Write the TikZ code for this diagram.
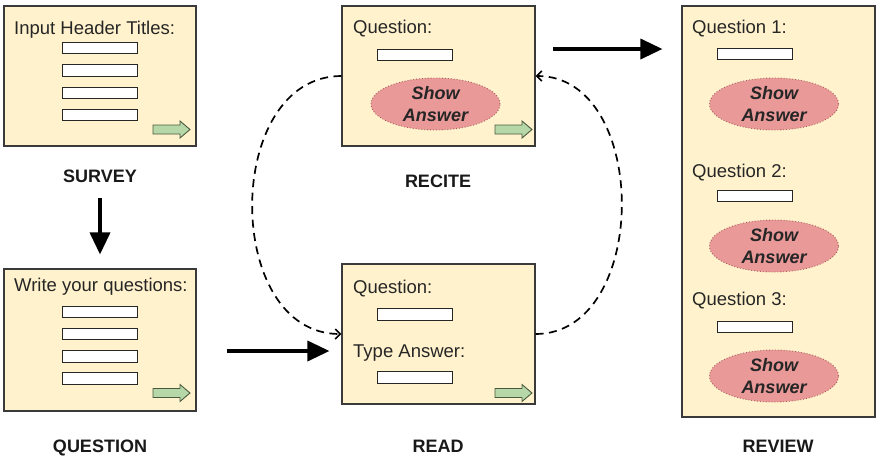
\documentclass[tikz,border=0pt]{standalone}
\usepackage{fontspec}
\setmainfont{Liberation Sans}
\usetikzlibrary{arrows.meta,shapes.geometric,calc}
\definecolor{boxfill}{HTML}{FFF2CC}
\definecolor{boxline}{HTML}{3A3A3A}
\definecolor{ellfill}{HTML}{EA9999}
\definecolor{ellline}{HTML}{A85C5C}
\definecolor{grfill}{HTML}{B6D7A8}
\definecolor{grline}{HTML}{4B5A3F}
\definecolor{txt}{HTML}{262626}
\begin{document}
\begin{tikzpicture}[x=1pt,y=-1pt,
  panel/.style={draw=boxline, fill=boxfill, line width=1.1pt, inner sep=0pt},
  field/.style={draw=black!85, fill=white, line width=1.1pt, minimum width=75pt, minimum height=11.5pt, inner sep=0pt},
  lbl/.style={anchor=base west, inner sep=0pt, text=txt, font=\fontsize{18.5}{22}\selectfont},
  title/.style={anchor=base, inner sep=0pt, text=black!90, font=\fontsize{18}{22}\selectfont\bfseries},
  showans/.style={ellipse, draw=ellline, fill=ellfill, dotted, line width=0.9pt, minimum width=129pt, minimum height=52pt, inner sep=0pt, align=center, text=txt, font=\fontsize{18}{22}\selectfont\bfseries\itshape},
  bigarrow/.style={line width=3.5pt, -{Triangle[length=22pt,width=20pt]}},
  loopline/.style={dash pattern=on 8pt off 5.5pt, line width=1.7pt, -{Straight Barb[length=5pt,width=10pt]}},
  garrow/.pic={\draw[fill=grfill, draw=grline, line width=0.9pt] (0,-4.5) -- (27,-4.5) -- (27,-8.5) -- (37,0) -- (27,8.5) -- (27,4.5) -- (0,4.5) -- cycle;}
]
\useasboundingbox (0,0) rectangle (877,456);
\fill[white] (0,0) rectangle (877,456);

% SURVEY
\node[panel, minimum width=192pt, minimum height=140pt] (survey) at (100,76) {};
\node[lbl] (surveyT) at (14,34) {Input Header Titles:};
\node[field] (sf1) at (100,48) {};
\node[field] (sf2) at (100,70.5) {};
\node[field] (sf3) at (100,93) {};
\node[field] (sf4) at (100,115) {};
\pic at (153,129.5) {garrow};
\node[title] (surveyL) at (100,182) {SURVEY};

% QUESTION
\node[panel, minimum width=192pt, minimum height=142pt] (question) at (100,340) {};
\node[lbl] (questionT) at (14,291) {Write your questions:};
\node[field] (qf1) at (100,312) {};
\node[field] (qf2) at (100,334) {};
\node[field] (qf3) at (100,356.5) {};
\node[field] (qf4) at (100,378.5) {};
\pic at (153,393) {garrow};
\node[title] (questionL) at (100,452) {QUESTION};

% RECITE
\node[panel, minimum width=193pt, minimum height=140pt] (recite) at (438.5,76) {};
\node[lbl] (reciteT) at (353,33) {Question:};
\node[field] (rf1) at (415,55) {};
\node[showans] (rs) at (435.5,104) {Show\\Answer};
\pic at (495,129.5) {garrow};
\node[title] (reciteL) at (438,187) {RECITE};

% READ
\node[panel, minimum width=193pt, minimum height=140pt] (read) at (438.5,334) {};
\node[lbl] (readT1) at (353,293) {Question:};
\node[field] (df1) at (415,314.5) {};
\node[lbl] (readT2) at (353,357) {Type Answer:};
\node[field] (df2) at (415,377.5) {};
\pic at (495,393) {garrow};
\node[title] (readL) at (438,452) {READ};

% REVIEW
\node[panel, minimum width=193pt, minimum height=411pt] (review) at (778.5,211.5) {};
\node[lbl] (vT1) at (692,33) {Question 1:};
\node[field] (vf1) at (755,54) {};
\node[showans] (vs1) at (774,104) {Show\\Answer};
\node[lbl] (vT2) at (692,177) {Question 2:};
\node[field] (vf2) at (755,196) {};
\node[showans] (vs2) at (774,246) {Show\\Answer};
\node[lbl] (vT3) at (692,305) {Question 3:};
\node[field] (vf3) at (755,327) {};
\node[showans] (vs3) at (774,376) {Show\\Answer};
\node[title] (reviewL) at (778,452) {REVIEW};

% connectors
\draw[bigarrow, shorten <=16pt, shorten >=14pt] (surveyL.south) -- (question.north);
\coordinate (qa) at (227,351);
\draw[bigarrow, shorten >=12pt] (qa) -- (qa -| read.west);
\coordinate (ra) at (553,49);
\draw[bigarrow, shorten >=19pt] (ra) -- (ra -| review.west);
\draw[loopline] (recite.west) to[out=180,in=180,looseness=1.18] (read.west);
\draw[loopline] (read.east) to[out=0,in=0,looseness=1.14] (recite.east);
\end{tikzpicture}
\end{document}
